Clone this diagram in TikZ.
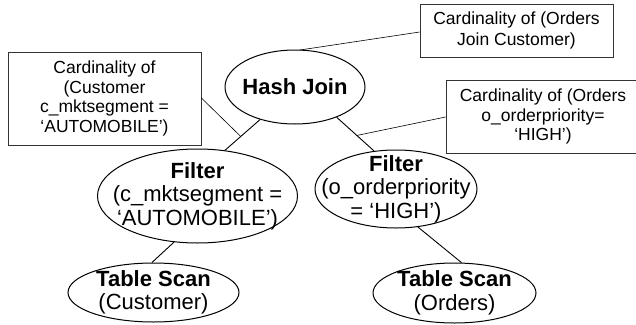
\documentclass[tikz,border=0pt]{standalone}
\usepackage{fontspec}
\setmainfont{Liberation Sans}
\usetikzlibrary{shapes.geometric,calc}
\begin{document}
\begin{tikzpicture}[x=1pt,y=-1pt,
  op/.style={draw=black,line width=1pt,ellipse,inner sep=0pt},
  optext/.style={inner sep=0pt,align=center,font=\fontsize{22}{23.5}\selectfont},
  card/.style={draw=black!80,line width=0.8pt,rectangle,inner sep=0pt,align=center,
    font=\fontsize{17.5}{19.5}\selectfont},
  link/.style={draw=black,line width=0.9pt},
  thin/.style={draw=black,line width=0.6pt}]
\clip (0,0) rectangle (636,324);
\fill[white] (0,0) rectangle (636,324);
% operators
\node[op,minimum width=140,minimum height=74] (hj) at (295,87) {};
\node[optext] (hjt) at (hj) {\textbf{Hash Join}};
\node[op,minimum width=200,minimum height=94] (f1) at (197.5,196) {};
\node[optext] (f1t) at (f1) {\textbf{Filter}\\(c\_mktsegment =\\‘AUTOMOBILE’)};
\node[op,minimum width=162,minimum height=78] (f2) at (396,189) {};
\node[optext] (f2t) at (f2) {\textbf{Filter}\\(o\_orderpriority\\= ‘HIGH’)};
\node[op,minimum width=171,minimum height=59] (t1) at (153.5,292.5) {};
\node[optext] (t1t) at (t1) {\textbf{Table Scan}\\(Customer)};
\node[op,minimum width=163,minimum height=60] (t2) at (454.5,293) {};
\node[optext] (t2t) at (t2) {\textbf{Table Scan}\\(Orders)};
% annotation boxes
\node[card,minimum width=193,minimum height=93] (c1) at (104.5,98.5)
  {Cardinality of\\(Customer\\c\_mktsegment =\\‘AUTOMOBILE’)};
\node[card,minimum width=193,minimum height=53,font=\fontsize{17.5}{21.5}\selectfont] (c2) at (516.5,30.5)
  {Cardinality of (Orders\\Join Customer)};
\node[card,minimum width=194,minimum height=73] (c3) at (543,116.5)
  {Cardinality of (Orders\\o\_orderpriority=\\‘HIGH’)};
% connectors
\draw[link] (hj.223) -- (f1.59);
\draw[link] (hj.-36) -- (f2.120);
\draw[link] (f1.243) -- (t1.93);
\draw[link] (f2.300) -- (t2.77);
% annotation pointers
\coordinate (p1) at ($(hj.223)!0.55!(f1.59)$);
\coordinate (p2) at (300,50);
\coordinate (p3) at ($(hj.-36)!0.54!(f2.120)$);
\draw[thin] (c1.east |- 0,98) -- (p1);
\draw[thin] (c2.west |- 0,32) -- (p2);
\draw[thin] (c3.west |- 0,117) -- (p3);
\end{tikzpicture}
\end{document}
